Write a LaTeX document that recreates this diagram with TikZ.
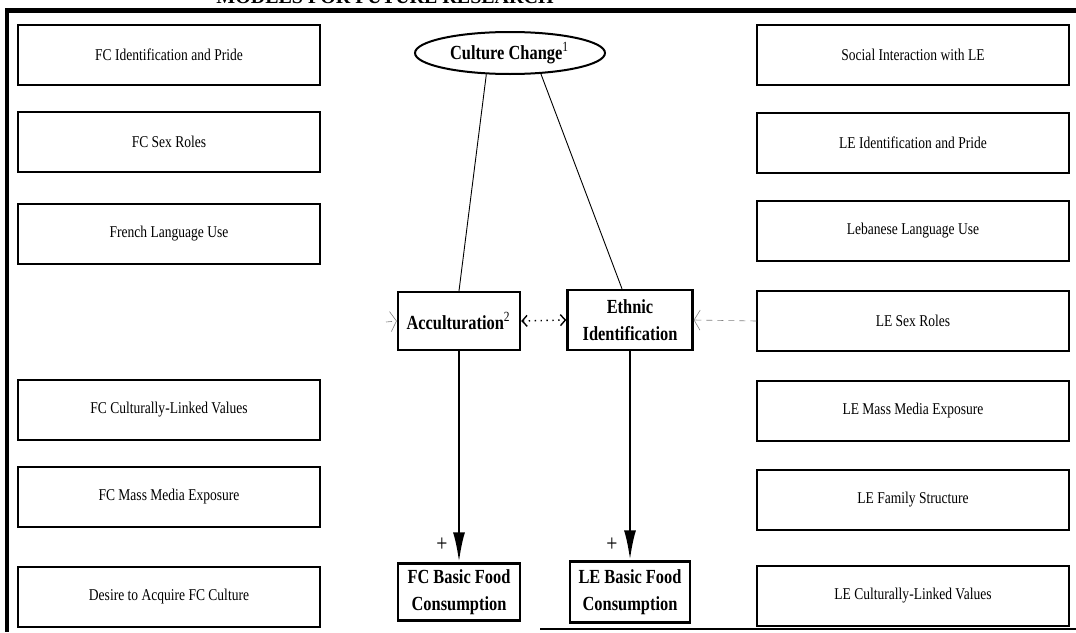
\documentclass[tikz,border=0pt]{standalone}
\usepackage{fontspec}
\setmainfont{Liberation Serif}[FakeStretch=0.82]
\newfontfamily\titlefont{Liberation Serif}
\usetikzlibrary{arrows.meta,shapes.geometric}
\begin{document}
\begin{tikzpicture}[x=1pt,y=-1pt,
  side/.style={draw, line width=1.2pt, minimum width=302pt, minimum height=60pt, inner sep=0pt,
    font=\fontsize{16.5}{18}\selectfont},
  rside/.style={side, minimum width=312pt},
  core/.style={draw, line width=2.4pt, align=center, inner sep=1pt,
    font=\bfseries\fontsize{20}{27}\selectfont},
  oval/.style={draw, ellipse, line width=2pt, minimum width=190pt, minimum height=42pt, inner sep=0pt,
    font=\bfseries\fontsize{20}{20}\selectfont},
  link/.style={line width=0.9pt},
  effect/.style={line width=2.6pt, -{Latex[length=30pt,width=12pt]}},
  corr/.style={line width=1.4pt, dash pattern=on 1.4pt off 4.5pt, {Straight Barb[length=5pt,width=11pt]}-{Straight Barb[length=5pt,width=11pt]}},
  faint/.style={line width=0.6pt, gray, dash pattern=on 6pt off 5pt, -{Straight Barb[length=6pt,width=20pt]}},
  frame/.style={line width=5pt},
  plus/.style={font=\fontsize{24}{24}\selectfont, inner sep=0pt}
]
\useasboundingbox (0,0) rectangle (1076,632);
\fill[white] (0,0) rectangle (1076,632);

% partly cut title and frame
\node[anchor=base, inner sep=0pt, font=\titlefont\bfseries\fontsize{20}{20}\selectfont] (title) at (385,3) {MODELS FOR FUTURE RESEARCH};
\draw[frame] (5,10) -- (1076,10);
\draw[line width=4pt] (7,8) -- (7,632);
\draw[line width=2.5pt] (540,629) -- (1076,629);

% left boxes
\node[side] (fc1) at (169,55)  {FC Identification and Pride};
\node[side] (fc2) at (169,142) {FC Sex Roles};
\node[side] (fc3) at (169,234) {French Language Use};
\node[side] (fc4) at (169,410) {FC Culturally-Linked Values};
\node[side] (fc5) at (169,497) {FC Mass Media Exposure};
\node[side] (fc6) at (169,597) {Desire to Acquire FC Culture};

% right boxes
\node[rside] (le1) at (913,55)  {Social Interaction with LE};
\node[rside] (le2) at (913,143) {LE Identification and Pride};
\node[rside] (le3) at (913,231) {Lebanese Language Use};
\node[rside] (le4) at (913,321) {LE Sex Roles};
\node[rside] (le5) at (913,411) {LE Mass Media Exposure};
\node[rside] (le6) at (913,500) {LE Family Structure};
\node[rside] (le7) at (913,596) {LE Culturally-Linked Values};

% centre
\node[oval] (cc) at (510,53) {Culture Change$^{\mathrm{1}}$};
\node[core, minimum width=122pt, minimum height=58pt] (acc) at (459,321) {Acculturation$^{\mathrm{2}}$};
\node[core, minimum width=125pt, minimum height=60pt] (eth) at (630,320) {Ethnic\\Identification};
\node[core, minimum width=122pt, minimum height=57pt] (fcf) at (459,592) {FC Basic Food\\Consumption};
\node[core, minimum width=120pt, minimum height=61pt] (lef) at (630,592) {LE Basic Food\\Consumption};

% connectors
\draw[link] (cc.222) -- (acc.north);
\draw[link] (cc.326) -- ([xshift=-8pt]eth.north);
\draw[corr] (acc.east) -- (eth.west);
\draw[faint] (le4.west) -- (eth.east);
\coordinate (stub) at (386,322);
\draw[faint] (stub) -- (acc.west);
\draw[effect] (acc.south) -- (fcf.north);
\draw[effect] (eth.south) -- (lef.north);
\node[plus] (p1) at (442,545) {+};
\node[plus] (p2) at (612,545) {+};
\end{tikzpicture}
\end{document}
